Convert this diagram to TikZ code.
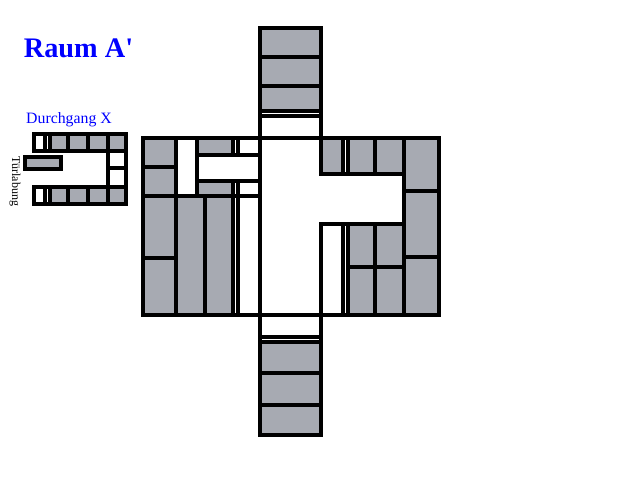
\documentclass[tikz,border=0pt]{standalone}
\usepackage{fontspec}
\newfontfamily\labelfont{Liberation Serif}
\definecolor{roomgrey}{RGB}{167,170,178}
\definecolor{labelblue}{RGB}{0,0,255}
\tikzset{
  room/.style={fill=roomgrey},
  wall/.style={line width=4pt,line cap=rect},
}
\begin{document}
\begin{tikzpicture}[x=1pt,y=-1pt]
    \useasboundingbox (0,0) rectangle (640,480);
    % grey cells
    \foreach \xa/\ya/\xb/\yb in {143/138/176/315,176/196/233/315,197/138/233/155,197/181/233/196,
        321/138/343/173.5,348/138/404/173.5,404/138/439/315,348/224/404/315,
        260/28/321/111,260/342/321/435,50/134/126/151,50/187/126/204}
      \path[room] (\xa,\ya) rectangle (\xb,\yb);
    % main room
    \draw[wall] (143,138) rectangle (439,315);
    \foreach \x/\ya/\yb in {176/138/315,197/138/196,205/196/315,233/138/155,238/138/155,233/181/315,238/181/315,
        343/138/173.5,348/138/173.5,375/138/173.5,343/224/315,348/224/315,375/224/315,404/138/315,
        260/28/435,321/28/173.5,321/224/435}
      \draw[wall] (\x,\ya) -- (\x,\yb);
    \foreach \y/\xa/\xb in {167/143/176,258/143/176,155/197/260,181/197/260,196/143/260,
        173.5/321/404,224/321/404,267/348/404,191/404/439,257/404/439,
        28/260/321,57/260/321,86/260/321,111/260/321,116/260/321,
        337/260/321,342/260/321,373/260/321,405/260/321,435/260/321}
      \draw[wall] (\xa,\y) -- (\xb,\y);
    % passage
    \draw[wall] (126,134) -- (34,134) -- (34,151) -- (126,151);
    \draw[wall] (126,204) -- (34,204) -- (34,187) -- (126,187);
    \draw[wall] (126,134) -- (126,204);
    \draw[wall] (108,134) -- (108,204);
    \draw[wall] (108,168) -- (126,168);
    \foreach \x in {45,50,68,88} {
      \draw[wall] (\x,134) -- (\x,151);
      \draw[wall] (\x,187) -- (\x,204);
    }
    \draw[wall,room] (25,157) rectangle (61,169);
    % labels
    \node[text=labelblue,font=\labelfont\fontsize{28.3}{28}\selectfont\bfseries] (title) at (78.5,48) {Raum A'};
    \node[text=labelblue,font=\labelfont\fontsize{15.8}{16}\selectfont] (passage) at (69,120) {Durchgang X};
    \node[rotate=-90,font=\labelfont\fontsize{12}{12}\selectfont] (door) at (15,181) {Türlabung};
\end{tikzpicture}
\end{document}
